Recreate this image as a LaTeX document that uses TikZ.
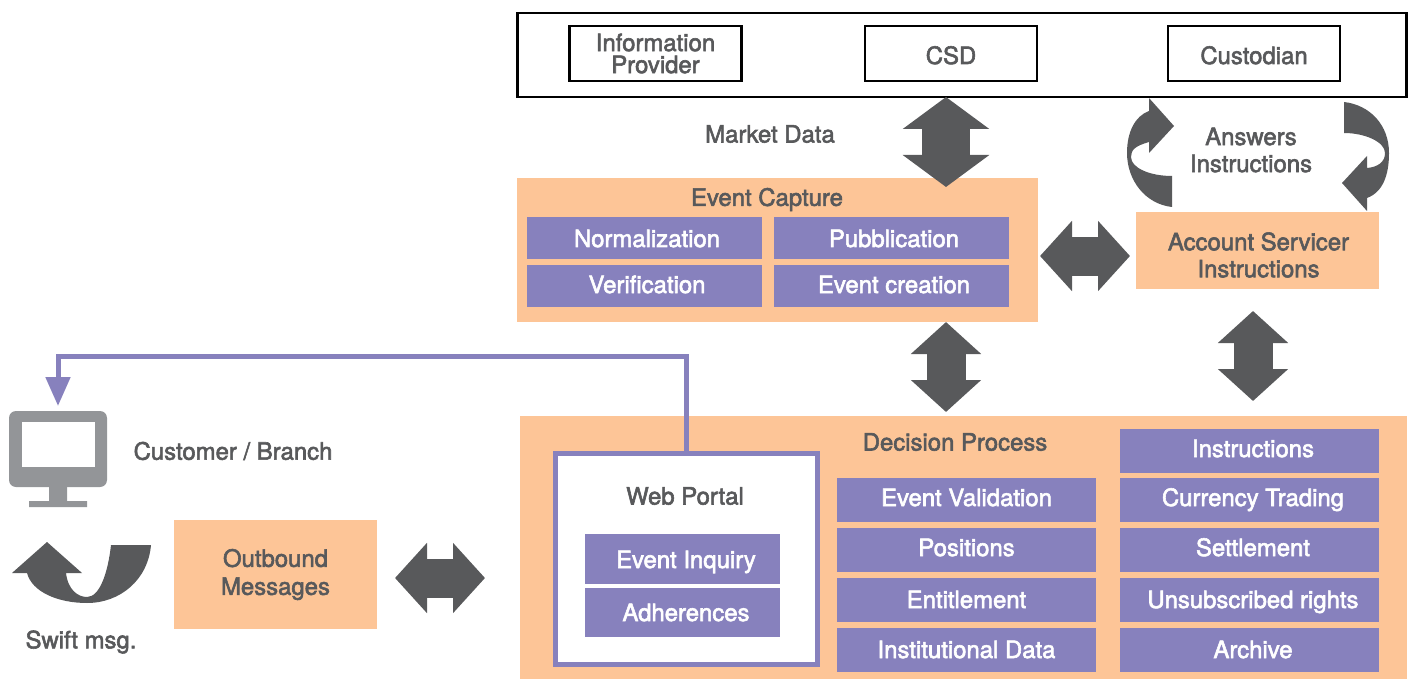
\documentclass[tikz,border=0pt]{standalone}
\usepackage{fontspec}
\setmainfont{TeX Gyre Heros}[FakeBold=2.4]
\usetikzlibrary{positioning, arrows.meta}
\definecolor{paneorange}{HTML}{FDC597}
\definecolor{itempurple}{HTML}{8781BD}
\definecolor{arrowgray}{HTML}{58595B}
\definecolor{screengray}{HTML}{939598}
\tikzset{
        x=1pt, y=-1pt,
        every node/.style={inner sep=0pt, outer sep=0pt, text=arrowgray, align=center, font=\fontsize{23.9}{27}\selectfont},
        textdrop/.style={text height=11pt+#1*1pt, text depth=11pt-#1*1pt},
        textnudge/.style={execute at begin node={\hspace*{#1}}},
        sourcebox/.style={draw=black, line width=2.5pt, fill=white, minimum width=172pt, minimum height=55pt, font=\fontsize{23.9}{22}\selectfont},
        pane/.style={fill=paneorange, font=\fontsize{23.9}{28}\selectfont},
        itembox/.style={fill=itempurple, text=white, minimum width=259pt, minimum height=44.5pt, textdrop=8},
        smallitem/.style={fill=itempurple, text=white, minimum width=235pt, minimum height=42pt, textnudge=5pt},
        portalitem/.style={fill=itempurple, text=white, minimum width=195pt, minimum height=49.5pt, textnudge=7pt},
        blockarrow/.style={draw=arrowgray, line width=39pt, arrows={Triangle[width=68.5pt,length=32pt]-Triangle[width=68.5pt,length=32pt]}},
        widearrow/.style={draw=arrowgray, line width=48pt, arrows={Triangle[width=85pt,length=32pt]-Triangle[width=85pt,length=32pt]}},
        portalline/.style={draw=itempurple, line width=5pt, arrows={-Triangle[width=24pt,length=29pt]}}
}
\begin{document}
\begin{tikzpicture}
        \useasboundingbox (0,0) rectangle (1413,679);
        \node[draw=black, line width=2.5pt, minimum width=889pt, minimum height=84pt] (sources) at (962,55) {};
        \node[sourcebox] (provider) at (655.5,53.5) {Information\\Provider};
        \node[sourcebox, textdrop=10.5] (csd) at (951,53.5) {CSD};
        \node[sourcebox, textdrop=10.5] (custodian) at (1254,53.5) {Custodian};
        \node (marketlabel) at (770,134) {Market Data};
        \node (answerslabel) at (1251,150) {Answers\\Instructions};

        \node[pane, minimum width=521pt, minimum height=144pt] (capture) at (777.5,250) {};
        \node (capturelabel) at (767,199.5) {Event Capture};
        \node[smallitem, textdrop=9] (normal) at (644.5,238) {Normalization};
        \node[smallitem, textdrop=9] (publish) [right=12pt of normal] {Pubblication};
        \node[smallitem, textdrop=7] (verify) [below=6pt of normal] {Verification};
        \node[smallitem, textdrop=7] (create) [below=6pt of publish] {Event creation};
        \node[pane, minimum width=243pt, minimum height=77pt] (servicer) at (1257.5,250.5) {};
        \node (servicerlabel) at (1258.5,255) {Account Servicer\\Instructions};

        \node[pane, minimum width=887pt, minimum height=263pt] (decision) at (963.5,547.5) {};
        \node (decisionlabel) at (955,442) {Decision Process};
        \node[draw=itempurple, line width=5pt, fill=white, minimum width=262pt, minimum height=211pt] (portal) at (686.5,558.5) {};
        \node (portallabel) at (685,496) {Web Portal};
        \node[portalitem, textdrop=9] (inquiry) at (682.5,559) {Event Inquiry};
        \node[portalitem, textdrop=8.5] (adhere) [below=4pt of inquiry] {Adherences};
        \node[itembox, textdrop=6] (validate) at (966.5,500) {Event Validation};
        \node[itembox, textdrop=6] (positions) [below=5.5pt of validate] {Positions};
        \node[itembox] (entitle) [below=5.5pt of positions] {Entitlement};
        \node[itembox] (institution) [below=5.5pt of entitle] {Institutional Data};
        \node[itembox, textnudge=7pt, textdrop=6] (trading) [right=24pt of validate] {Currency Trading};
        \node[itembox, textnudge=7pt, textdrop=6] (instruct) [above=4.5pt of trading] {Instructions};
        \node[itembox, textnudge=7pt, textdrop=6] (settle) [below=5.5pt of trading] {Settlement};
        \node[itembox, textnudge=7pt] (rights) [below=5.5pt of settle] {Unsubscribed rights};
        \node[itembox, textnudge=7pt] (archive) [below=5.5pt of rights] {Archive};

        \node[pane, minimum width=203pt, minimum height=109pt] (outbound) at (275.5,574.5) {Outbound\\Messages};
        \node (customerlabel) at (233,451) {Customer / Branch};
        \node (swiftlabel) at (81,642) {Swift msg.};

        \fill[screengray] (49,486) rectangle (67,502) (29,501) rectangle (87,507);
        \node[fill=screengray, rounded corners=7pt, minimum width=98pt, minimum height=76pt] (monitor) at (58,449) {};
        \node[fill=white, minimum width=73pt, minimum height=45pt] (screen) at (58.5,444.5) {};

        \coordinate (midcol) at (946,0);
        \coordinate (rightcol) at (1253,0);
        \coordinate (uprow) at (0,256);
        \coordinate (lowrow) at (0,578);
        \draw[widearrow, shorten >=-9pt] (sources.south -| midcol) -- (capture.north -| midcol);
        \draw[blockarrow, shorten >=4pt] (capture.south -| midcol) -- (decision.north -| midcol);
        \draw[blockarrow, shorten <=22pt, shorten >=15pt] (servicer.south -| rightcol) -- (decision.north -| rightcol);
        \draw[blockarrow, shorten <=2pt, shorten >=6pt] (capture.east |- uprow) -- (servicer.west |- uprow);
        \draw[blockarrow, shorten <=18pt, shorten >=35pt] (outbound.east |- lowrow) -- (decision.west |- lowrow);
        \draw[portalline, shorten >=5pt] (portal.north) -- ++(0,-97) -| (monitor.north);

        \fill[arrowgray] (1149,98) -- (1174,126) -- (1149,153) -- (1149,142) .. controls (1135,146) and (1131,150) .. (1131,157) .. controls (1131,168) and (1150,176) .. (1172,176) -- (1172,207) .. controls (1145,204) and (1127,180) .. (1127,153) .. controls (1127,132) and (1135,116) .. (1149,111) -- cycle;
        \fill[arrowgray] (1344,102) .. controls (1370,105) and (1389,125) .. (1389,153) .. controls (1389,175) and (1383,192) .. (1367,198) -- (1367,211) -- (1342,183) -- (1367,156) -- (1367,168) .. controls (1378,167) and (1385,162) .. (1385,153) .. controls (1385,142) and (1365,133) .. (1344,133) -- cycle;
        \fill[arrowgray] (47,542) -- (82,573) -- (66,573) .. controls (68,590) and (78,597) .. (87,597) .. controls (100,597) and (108,572) .. (111,545) -- (151,545) .. controls (148,580) and (120,603) .. (87,603) .. controls (58,603) and (32,592) .. (27,573) -- (12,573) -- cycle;
\end{tikzpicture}
\end{document}
